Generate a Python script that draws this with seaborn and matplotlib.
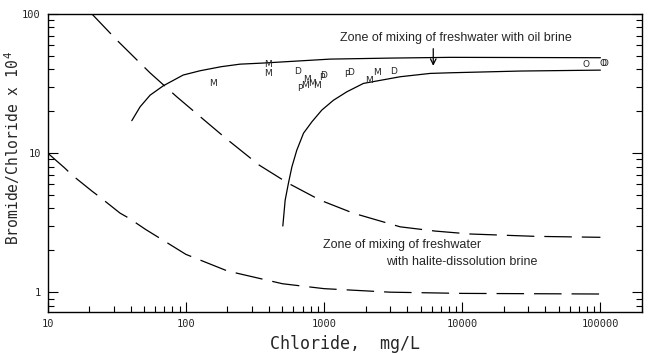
import numpy as np
import pandas as pd
import seaborn as sns
from matplotlib import pyplot as plt
from matplotlib.ticker import LogLocator, FuncFormatter, NullFormatter

# mixing curves (Cl mg/L , Br/Cl x 10^4)
oil_fresh_cl = [40.6, 46.6, 55.1, 68.7, 95.5, 126.8, 180, 246.6, 362, 1107, 3000, 8180, 100000]
oil_fresh_r = [17.1, 21.5, 26.1, 30.5, 36.4, 39.1, 41.8, 43.6, 44.4, 47.4, 48.2, 48.8, 48.5]

oil_lo_cl = [503, 523, 552, 585, 635, 710, 817, 964, 1170, 1463, 1928, 3556, 5860, 8200, 26300, 100000]
oil_lo_r = [2.99, 4.59, 6.06, 7.96, 10.5, 13.9, 16.8, 20.4, 24.0, 27.6, 31.7, 35.4, 37.4, 37.8, 38.9, 39.5]

hal_hi_cl = [20.9, 31.6, 55.1, 85.9, 135.5, 197.7, 339, 549, 937, 1626, 3556, 6370, 11420, 33800, 100000]
hal_hi_r = [100, 65.0, 37.7, 25.4, 17.3, 12.6, 8.2, 6.08, 4.59, 3.70, 2.95, 2.75, 2.62, 2.52, 2.48]

hal_lo_cl = [10, 13.3, 15.0, 20.9, 23.9, 33.4, 38.8, 50.7, 100, 200, 500, 1000, 3000, 10000, 100000]
hal_lo_r = [10, 7.8, 6.95, 5.33, 4.82, 3.70, 3.40, 2.84, 1.87, 1.42, 1.15, 1.06, 1.0, 0.98, 0.97]

# samples (letter = sample type)
pt_lab = ["M", "M", "M", "D", "M", "M", "M", "P", "D", "P", "M", "P", "D", "M", "M", "D", "O", "O", "D"]
pt_cl = [156.6, 392, 392, 646, 750, 820, 891, 968, 1000, 671, 730, 1463, 1556, 2119, 2426, 3166, 79000, 105000, 108000]
pt_r = [31.7, 43.0, 37.6, 38.9, 34.0, 31.9, 30.8, 35.2, 36.4, 29.2, 30.4, 37.0, 37.9, 33.0, 37.7, 38.9, 43.0, 44.4, 44.4]

x_ticks = [10, 100, 1000, 10000, 100000]
y_ticks = [1, 10, 100]

sns.set_style("white")
plt.rcParams['font.family'] = ['DejaVu Sans Mono']

fig = plt.figure(figsize=(6.5, 3.53), dpi=100)
ax = fig.add_axes([0.0734, 0.1161, 0.9143, 0.8442])

# 实线: freshwater + oil brine, 虚线: freshwater + halite brine
for cl, r, ls in [(oil_fresh_cl, oil_fresh_r, '-'), (oil_lo_cl, oil_lo_r, '-'),
                  (hal_hi_cl, hal_hi_r, (0, (22, 8))), (hal_lo_cl, hal_lo_r, (0, (22, 8)))]:
    sns.lineplot(x=cl, y=r, ax=ax, color='black', lw=0.9, linestyle=ls,
                 sort=False, estimator=None)

for s, x, y in zip(pt_lab, pt_cl, pt_r):
    ax.text(x, y, s, ha='center', va='center', fontsize=6.5, family='DejaVu Sans')

ax.set_xscale('log')
ax.set_yscale('log')
ax.set_xlim(10, 2e5)
ax.set_ylim(0.72, 100)
ax.set_xticks(x_ticks)
ax.set_yticks(y_ticks)
fmt = FuncFormatter(lambda v, _: f"{v:g}")
ax.xaxis.set_major_formatter(fmt)
ax.yaxis.set_major_formatter(fmt)
ax.xaxis.set_minor_locator(LogLocator(base=10, subs=np.arange(2, 10)))
ax.yaxis.set_minor_locator(LogLocator(base=10, subs=np.arange(2, 10)))
ax.xaxis.set_minor_formatter(NullFormatter())
ax.yaxis.set_minor_formatter(NullFormatter())
ax.tick_params(which='both', direction='in', top=False, right=True,
               bottom=True, left=True, labelsize=7.5, color='black', width=0.8)
ax.tick_params(which='major', length=7, pad=5)
ax.tick_params(which='minor', length=4)
for sp in ax.spines.values():
    sp.set_color('black')
    sp.set_linewidth(1.0)

ax.set_xlabel("Chloride,  mg/L", fontsize=12, labelpad=4)
ax.set_ylabel("Bromide/Chloride x 10$^{\\,4}$", fontsize=10.5)
ax.yaxis.set_label_coords(-0.044, 0.55)

ax.text(1309, 67.1, "Zone of mixing of freshwater with oil brine",
        ha='left', va='center', fontsize=9, family='Liberation Sans')
ax.annotate('', xy=(6170, 40.5), xytext=(6170, 59),
            arrowprops=dict(arrowstyle='->', lw=0.9, color='black'))
ax.text(986, 2.18, "Zone of mixing of freshwater",
        ha='left', va='center', fontsize=9, family='Liberation Sans')
ax.text(2818, 1.64, "with halite-dissolution brine",
        ha='left', va='center', fontsize=9, family='Liberation Sans')

plt.savefig("out.png", dpi=100)
